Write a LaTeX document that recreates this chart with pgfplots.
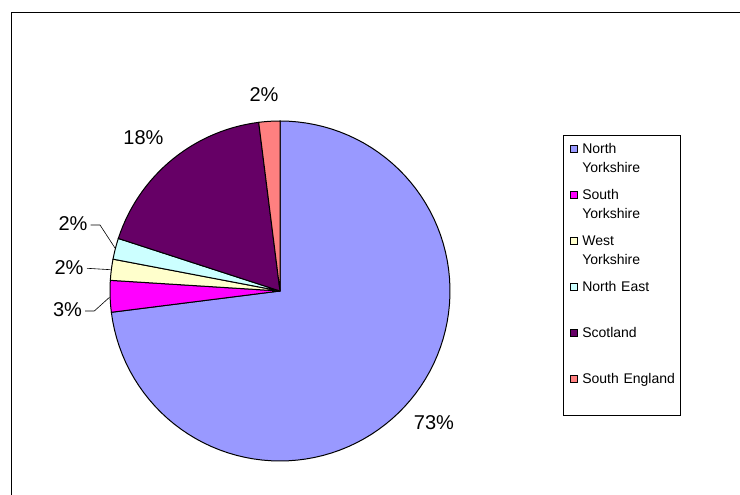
\documentclass[border=0pt]{standalone}
\usepackage{pgfplots}
\usepackage{pgfplotstable}
\pgfplotsset{compat=1.18}
\usepackage{fontspec}
\setmainfont{Liberation Sans}
\definecolor{cNY}{HTML}{9999FF}
\definecolor{cSY}{HTML}{FF00FF}
\definecolor{cWY}{HTML}{FFFFCC}
\definecolor{cNE}{HTML}{CCFFFF}
\definecolor{cSC}{HTML}{660066}
\definecolor{cSE}{HTML}{FF8080}
\pgfplotstableread{
idx pct
0 73
1 3
2 2
3 2
4 18
5 2
}\piedata
\pgfplotstablegetelem{0}{pct}\of\piedata \let\pA\pgfplotsretval
\pgfplotstablegetelem{1}{pct}\of\piedata \let\pB\pgfplotsretval
\pgfplotstablegetelem{2}{pct}\of\piedata \let\pC\pgfplotsretval
\pgfplotstablegetelem{3}{pct}\of\piedata \let\pD\pgfplotsretval
\pgfplotstablegetelem{4}{pct}\of\piedata \let\pE\pgfplotsretval
\pgfplotstablegetelem{5}{pct}\of\piedata \let\pF\pgfplotsretval
\pgfmathsetmacro\aA{90}
\pgfmathsetmacro\aB{\aA-3.6*\pA}
\pgfmathsetmacro\aC{\aB-3.6*\pB}
\pgfmathsetmacro\aD{\aC-3.6*\pC}
\pgfmathsetmacro\aE{\aD-3.6*\pD}
\pgfmathsetmacro\aF{\aE-3.6*\pE}
\pgfmathsetmacro\aG{\aF-3.6*\pF}
\begin{document}%
\begin{tikzpicture}
\begin{axis}[
  x=1pt, y=1pt, xmin=0, xmax=740, ymin=0, ymax=495,
  scale only axis, hide axis, clip=false,
  every axis plot/.append style={draw=black, line width=1pt},
  legend cell align=left,
  legend image code/.code={%
    \path (0pt,0pt);
    \draw[#1,line width=0.8pt] (6pt,8pt) rectangle (13pt,15pt);},
  legend style={at={(axis cs:563,360)}, anchor=north west,
    draw=black, line width=0.8pt, inner xsep=0pt, inner ysep=2pt,
    column sep=5pt, row sep=0pt,
    nodes={font=\fontsize{14}{19}\selectfont, text width=98pt, align=left,
      inner sep=0pt, text height=16pt, text depth=30pt}},
]
\addplot[fill=cNY, domain=\aB:\aA, samples=90] ({280+170*cos(x)},{204+170*sin(x)}) -- (axis cs:280,204) -- cycle;
\addlegendentry{North\\Yorkshire}
\addplot[fill=cSY, domain=\aC:\aB, samples=8] ({280+170*cos(x)},{204+170*sin(x)}) -- (axis cs:280,204) -- cycle;
\addlegendentry{South\\Yorkshire}
\addplot[fill=cWY, domain=\aD:\aC, samples=6] ({280+170*cos(x)},{204+170*sin(x)}) -- (axis cs:280,204) -- cycle;
\addlegendentry{West\\Yorkshire}
\addplot[fill=cNE, domain=\aE:\aD, samples=6] ({280+170*cos(x)},{204+170*sin(x)}) -- (axis cs:280,204) -- cycle;
\addlegendentry{North East}
\addplot[fill=cSC, domain=\aF:\aE, samples=30] ({280+170*cos(x)},{204+170*sin(x)}) -- (axis cs:280,204) -- cycle;
\addlegendentry{Scotland}
\addplot[fill=cSE, domain=\aG:\aF, samples=6] ({280+170*cos(x)},{204+170*sin(x)}) -- (axis cs:280,204) -- cycle;
\addlegendentry{South England}
% percentage labels
\begin{scope}[every node/.style={font=\fontsize{20}{24}\selectfont, inner sep=0pt}]
\node at (axis cs:264,400) {2\%};
\node at (axis cs:143.5,357.5) {18\%};
\node at (axis cs:73,271.5) {2\%};
\node at (axis cs:69,227) {2\%};
\node at (axis cs:67.5,185) {3\%};
\node at (axis cs:434,72.5) {73\%};
\end{scope}
% leader lines
\draw[black, line width=0.6pt] (axis cs:90.5,270) -- (axis cs:100,270) -- (axis cs:115,247);
\draw[black, line width=0.6pt] (axis cs:87,226.7) -- (axis cs:110.5,225.3);
\draw[black, line width=0.6pt] (axis cs:85,184) -- (axis cs:94.3,184) -- (axis cs:109.5,197.7);
% chart area border
\draw[black, line width=1pt] (axis cs:11,0) -- (axis cs:11,482) -- (axis cs:740,482);
\end{axis}
\pgfresetboundingbox
\path (0,0) rectangle (740pt,495pt);
\end{tikzpicture}%
\end{document}
